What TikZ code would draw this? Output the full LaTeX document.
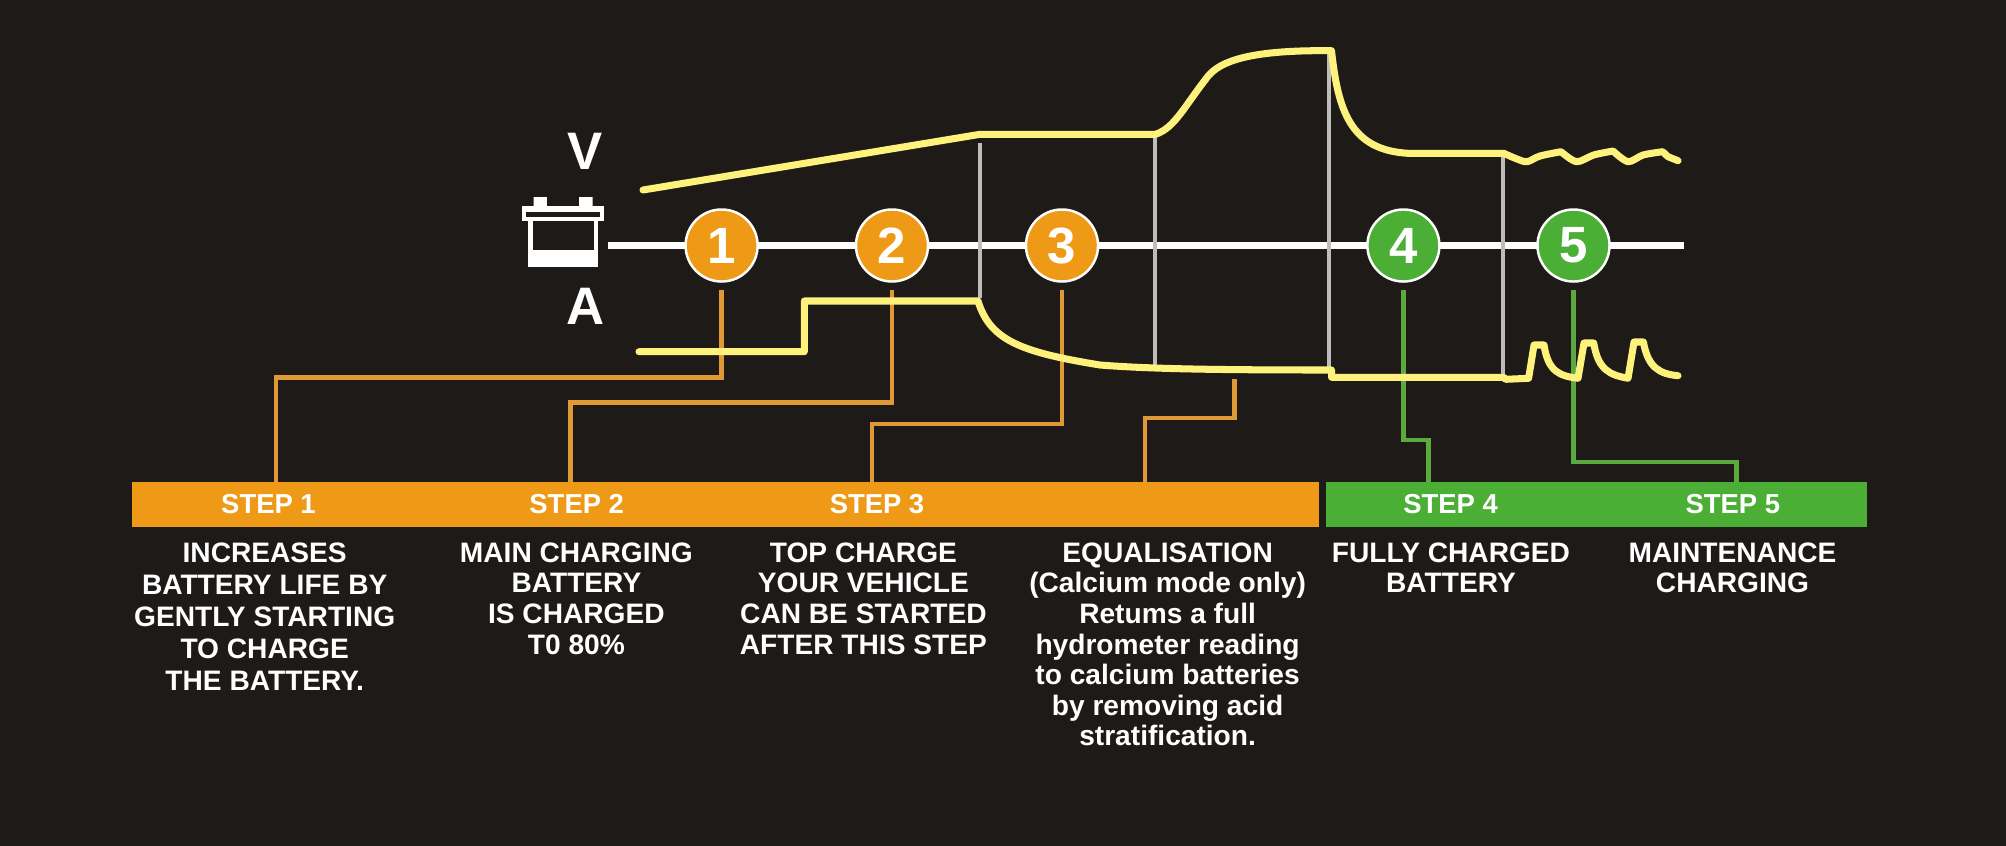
\documentclass[tikz,border=0pt]{standalone}
\usepackage{fontspec}
\setmainfont{Liberation Sans}
\definecolor{bgdark}{HTML}{1E1A18}
\definecolor{steporange}{HTML}{EE9A17}
\definecolor{stepgreen}{HTML}{4BAE35}
\definecolor{wireorange}{HTML}{DF9A35}
\definecolor{wiregreen}{HTML}{5AAA40}
\definecolor{curveyellow}{HTML}{FFF27C}
\definecolor{gridgrey}{HTML}{BDBDBD}
\tikzset{
  stepdot/.style={circle,draw=white,line width=0.7pt,minimum size=0.72cm,inner sep=0pt,text=white,font=\fontsize{14.5}{14.5}\selectfont\bfseries},
  stepbar/.style={rectangle,inner sep=0pt,minimum height=0.45cm},
  steplabel/.style={inner sep=0pt,text=white,font=\fontsize{7.8}{8}\selectfont\bfseries},
  stepdesc/.style={inner sep=0pt,anchor=north,align=center,text=white,font=\fontsize{8}{8.7}\selectfont\bfseries},
  axisletter/.style={inner sep=0pt,text=white,font=\fontsize{15}{15}\selectfont\bfseries},
  curve/.style={curveyellow,line width=2pt,line cap=round,line join=round},
}
\newcommand{\stepwire}[4]{
\draw[#1,line width=1.4pt] ([yshift=-2pt]#2.south) -- (#2.south |- 0,#3) -| (#4);
}
\begin{document}
\begin{tikzpicture}[x=0.01cm,y=-0.01cm]
    \useasboundingbox (0,0) rectangle (2006,845);
    \fill[bgdark] (-10,-10) rectangle (2016,855);
    % bars
    \node[stepbar,fill=steporange,minimum width=11.86cm] (barorange) at (725.6,504.2) {};
    \node[stepbar,fill=stepgreen,minimum width=5.41cm] (bargreen) at (1596.4,504.2) {};
    \foreach \n/\x in {1/268.5,2/576.7,3/877,4/1450.6,5/1732.8}
        \node[steplabel] (label\n) at (\x,504) {STEP \n};
    % axis and battery
    \coordinate (axisstart) at (607.5,245.7);
    \coordinate (axisend) at (1684.4,245.7);
    \draw[white,line width=2pt] (axisstart) -- (axisend);
    \fill[white] (533.6,197) rectangle (546.8,207) (579,197) rectangle (592.5,207);
    \fill[white] (522,206) rectangle (604,220.7);
    \fill[white] (527.5,220) rectangle (598,266.7);
    \fill[bgdark] (526,211.7) rectangle (600,216.7);
    \fill[bgdark] (532.5,220.7) rectangle (593.6,250);
    \node[axisletter] (letterv) at (585.5,151.7) {V};
    \node[axisletter] (lettera) at (586,306) {A};
    % grey marks
    \draw[gridgrey,line width=1.1pt] (980,143) -- (980,298);
    \draw[gridgrey,line width=1.1pt] (1154.7,136) -- (1154.7,365);
    \draw[gridgrey,line width=1.1pt] (1328.9,50) -- (1328.9,370);
    \draw[gridgrey,line width=1.1pt] (1503,153) -- (1503,377);
    % step circles
    \foreach \n/\x in {1/721.6,2/892,3/1062}
        \node[stepdot,fill=steporange] (dot\n) at (\x,245.5) {\n};
    \foreach \n/\x in {4/1403.4,5/1573.5}
        \node[stepdot,fill=stepgreen] (dot\n) at (\x,245.5) {\n};
    % wires
    \coordinate (top1) at (276,482);
    \coordinate (top2) at (570.4,482);
    \coordinate (top3) at (872,482);
    \coordinate (topeq) at (1145,482);
    \coordinate (top4) at (1428.4,482);
    \coordinate (top5) at (1736.5,482);
    \coordinate (eqfoot) at (1234.7,379);
    \stepwire{wireorange}{dot1}{377.7}{top1}
    \stepwire{wireorange}{dot2}{402.7}{top2}
    \stepwire{wireorange}{dot3}{424}{top3}
    \draw[wireorange,line width=1.4pt] (eqfoot) |- (1145,418) -- (topeq);
    \stepwire{wiregreen}{dot4}{440}{top4}
    \stepwire{wiregreen}{dot5}{462}{top5}
    % voltage
    \draw[curve] (643,190) -- (980,134.3) -- (1155.5,134.3)
        .. controls (1175,128) and (1185,105) .. (1209,75)
        .. controls (1225,57) and (1265,50) .. (1331.5,50.7)
        .. controls (1338,110) and (1350,150) .. (1408,153.3)
        -- (1503.7,153.3)
        -- plot[smooth,tension=0.5] coordinates {(1503.7,153.3) (1517,159) (1527,161.7) (1540,156) (1561,151.7)}
        -- plot[smooth,tension=0.5] coordinates {(1561,151.7) (1576.5,161.7) (1593.7,155) (1613,151)}
        -- plot[smooth,tension=0.5] coordinates {(1613,151) (1628,161.7) (1643,155) (1662.6,151.7)}
        -- (1668,156.7) -- (1678,160.7);
    % current
    \draw[curve] (639,351.7) -- (804.3,351.7) -- (804.3,301) -- (978,301)
        .. controls (990,340) and (1020,352) .. (1100,365)
        .. controls (1150,369) and (1220,370) .. (1331.5,370)
        -- (1331.5,377.3) -- (1503.7,377.3) -- (1505.7,379.3) -- (1528.6,378.3)
        -- (1534,345) -- (1544,345)
        .. controls (1548,372) and (1560,376) .. (1578,378.3)
        -- (1584,343) -- (1593.7,343)
        .. controls (1598,370) and (1610,375) .. (1628,378.3)
        -- (1634,342) -- (1643.4,342)
        .. controls (1648,368) and (1660,374) .. (1678,375.7);
    % texts
    \node[stepdesc,font=\fontsize{8}{9.1}\selectfont\bfseries] (desc1) at (264.7,542) {INCREASES\\BATTERY LIFE BY\\GENTLY STARTING\\TO CHARGE\\THE BATTERY.};
    \node[stepdesc] (desc2) at (576.4,542) {MAIN CHARGING\\BATTERY\\IS CHARGED\\T0 80\%};
    \node[stepdesc] (desc3) at (863.4,542) {TOP CHARGE\\YOUR VEHICLE\\CAN BE STARTED\\AFTER THIS STEP};
    \node[stepdesc] (desceq) at (1167.6,542) {EQUALISATION\\(Calcium mode only)\\Retums a full\\hydrometer reading\\to calcium batteries\\by removing acid\\stratification.};
    \node[stepdesc] (desc4) at (1451,542) {FULLY CHARGED\\BATTERY};
    \node[stepdesc] (desc5) at (1732.5,542) {MAINTENANCE\\CHARGING};
\end{tikzpicture}
\end{document}
